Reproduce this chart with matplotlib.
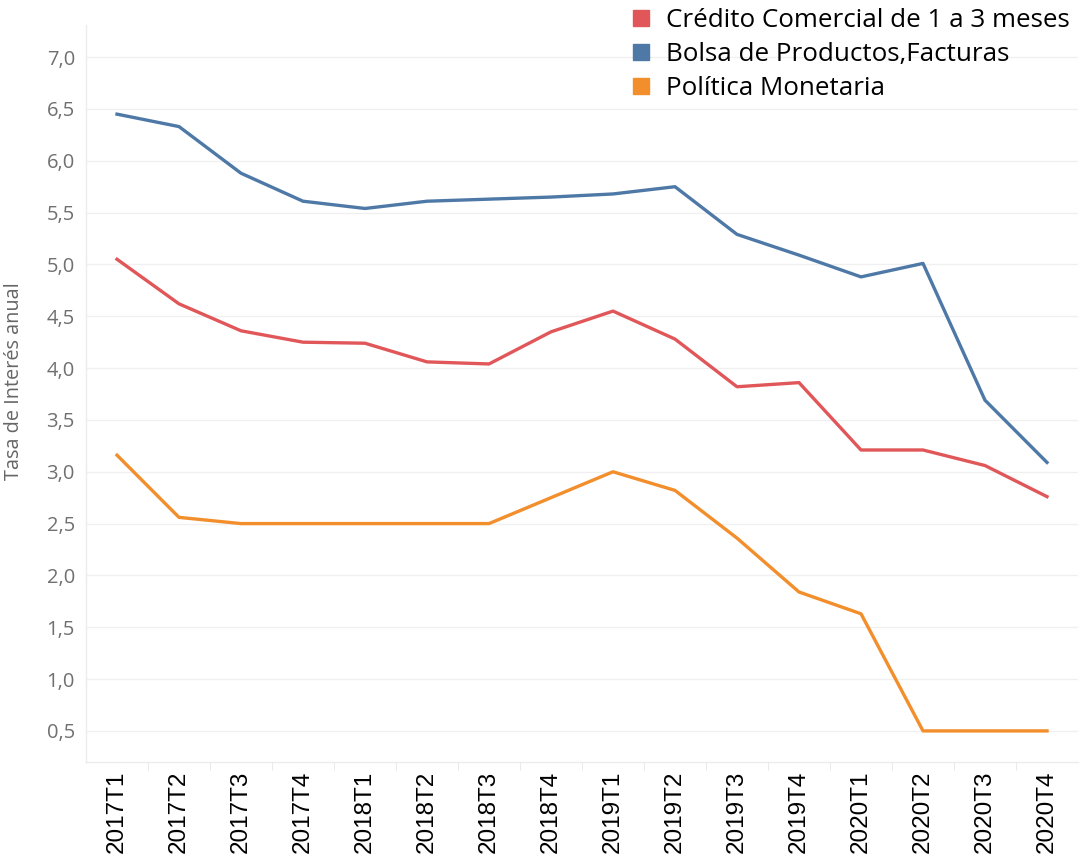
import matplotlib
matplotlib.use("Agg")
import matplotlib.pyplot as plt
from matplotlib.lines import Line2D
from matplotlib.ticker import FuncFormatter, MultipleLocator

periods = ["2017T1", "2017T2", "2017T3", "2017T4",
           "2018T1", "2018T2", "2018T3", "2018T4",
           "2019T1", "2019T2", "2019T3", "2019T4",
           "2020T1", "2020T2", "2020T3", "2020T4"]

credito = [5.05, 4.62, 4.36, 4.25, 4.24, 4.06, 4.04, 4.35,
           4.55, 4.28, 3.82, 3.86, 3.21, 3.21, 3.06, 2.76]
bolsa = [6.45, 6.33, 5.88, 5.61, 5.54, 5.61, 5.63, 5.65,
         5.68, 5.75, 5.29, 5.09, 4.88, 5.01, 3.69, 3.09]
politica = [3.16, 2.56, 2.50, 2.50, 2.50, 2.50, 2.50, 2.75,
            3.00, 2.82, 2.36, 1.84, 1.63, 0.50, 0.50, 0.50]

labels = ["Crédito Comercial de 1 a 3 meses", "Bolsa de Productos,Facturas", "Política Monetaria"]
colors = ["#e15759", "#4e79a7", "#f28e2b"]

fig = plt.figure(figsize=(10.81, 8.57), dpi=100)
ax = fig.add_axes([86/1081, 95/857, (1078-86)/1081, (762-25)/857])

x = list(range(len(periods)))
for series, col in zip([credito, bolsa, politica], colors):
    ax.plot(x, series, color=col, lw=2.4, solid_joinstyle="round", zorder=3)

ax.set_xlim(-0.5, len(periods) - 0.5)
ax.set_ylim(0.2, 7.31)
ax.yaxis.set_major_locator(MultipleLocator(0.5))
ax.yaxis.set_major_formatter(FuncFormatter(lambda v, p: f"{v:.1f}".replace(".", ",")))
ax.grid(axis="y", color="#f0f0f0", lw=1)
ax.set_axisbelow(True)

ax.set_xticks(x)
ax.set_xticklabels(periods, rotation=90, fontsize=17.5, family="Liberation Sans", color="black")
ax.set_xticks([i + 0.5 for i in x[:-1]], minor=True)
ax.tick_params(axis="x", which="major", length=0, pad=6)
ax.tick_params(axis="x", which="minor", length=6, color="#e6e6e6", direction="out")
ax.tick_params(axis="y", length=0, pad=8, labelsize=14.5, labelcolor="#707070")
for lab in ax.get_yticklabels():
    lab.set_family("Open Sans")

for s in ["top", "right"]:
    ax.spines[s].set_visible(False)
for s in ["left", "bottom"]:
    ax.spines[s].set_color("#ececec")
    ax.spines[s].set_linewidth(1)

ax.set_ylabel("Tasa de Interés anual", fontsize=14.3, color="#666666", family="Open Sans")
ax.yaxis.set_label_coords(-0.0625, 0.517)

handles = [Line2D([], [], ls="none", marker="s", markersize=12, color=c) for c in colors]
fig.legend(handles, labels, loc="upper left", bbox_to_anchor=(618/1081, 1.0025),
           frameon=False, prop={"family": "Open Sans", "size": 18.7},
           handlelength=1.0, handletextpad=0.45, labelspacing=0.35, borderaxespad=0)

fig.savefig("out.png", dpi=100)
